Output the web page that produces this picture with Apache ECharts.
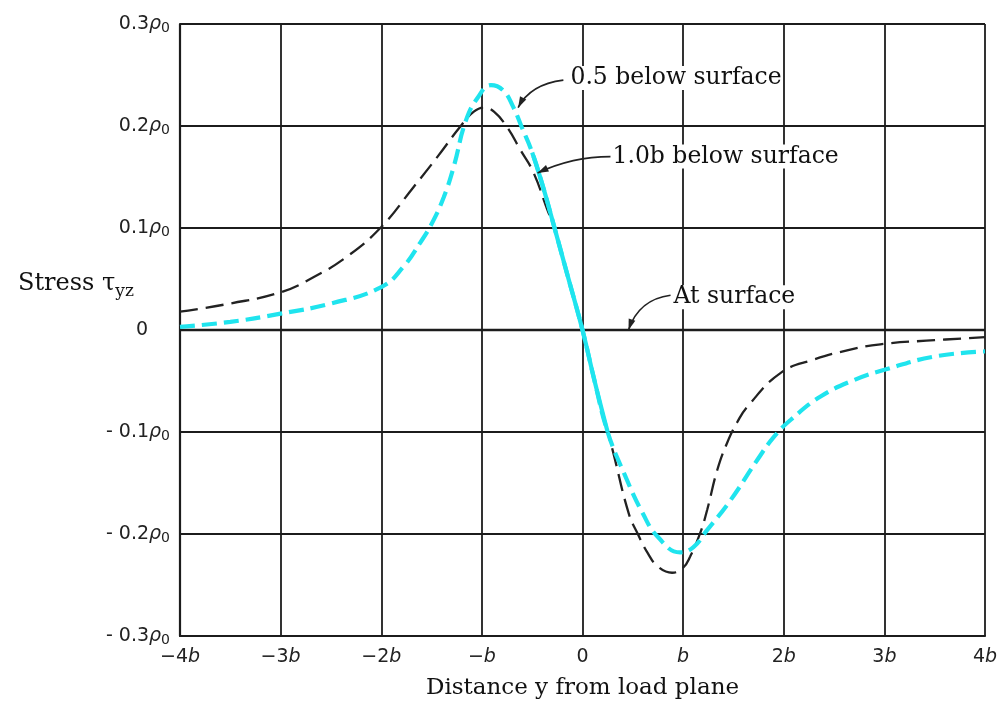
<!DOCTYPE html>
<html>
<head>
<meta charset="utf-8">
<script src="https://cdn.jsdelivr.net/npm/echarts@6/dist/echarts.min.js"></script>
<style>
  html, body { margin: 0; padding: 0; background: #ffffff; }
  #chart { width: 1008px; height: 713px; }
</style>
</head>
<body>
<div id="chart"></div>
<script>
// Distance from the load plane, in multiples of b
var depth10X = [-4, -3.5, -3, -2.67, -2.34, -2, -1.68, -1.44, -1.21, -1.08, -0.98, -0.88, -0.75, -0.62, -0.49, -0.35, -0.29, -0.15, 0,
                0.12, 0.25, 0.3, 0.46, 0.55, 0.65, 0.75, 0.89, 1.0, 1.07, 1.17, 1.24, 1.34, 1.44, 1.54, 1.64, 1.97, 2.3, 2.63, 2.96, 3.5, 4];
// Shear stress tau_yz / p0 at 1.0b below the surface
var depth10Y = [0.018, 0.026, 0.037, 0.052, 0.072, 0.101, 0.14, 0.17, 0.2, 0.214, 0.218, 0.214, 0.199, 0.177, 0.155, 0.118, 0.103, 0.054, 0,
                -0.05, -0.1, -0.118, -0.18, -0.2, -0.219, -0.232, -0.238, -0.233, -0.222, -0.199, -0.176, -0.137, -0.11, -0.09, -0.075, -0.042, -0.029, -0.02, -0.014, -0.010, -0.007];

var depth05X = [-4, -3.5, -3, -2.5, -2, -1.78, -1.61, -1.5, -1.38, -1.28, -1.16, -1.04, -0.91, -0.79, -0.69, -0.6, -0.5, -0.4, -0.3, -0.15, 0,
                0.12, 0.25, 0.42, 0.6, 0.75, 0.97, 1.1, 1.24, 1.47, 1.74, 1.9, 2.07, 2.37, 2.7, 3, 3.5, 4];
// Shear stress tau_yz / p0 at 0.5b below the surface
var depth05Y = [0.003, 0.008, 0.016, 0.026, 0.042, 0.062, 0.086, 0.104, 0.13, 0.16, 0.205, 0.228, 0.24, 0.235, 0.219, 0.198, 0.174, 0.143, 0.108, 0.054, 0,
                -0.05, -0.1, -0.142, -0.18, -0.203, -0.218, -0.213, -0.196, -0.167, -0.127, -0.105, -0.088, -0.065, -0.049, -0.039, -0.026, -0.021];

// At the surface the shear stress vanishes
var surfaceX = [-4, 4];
var surfaceY = [0, 0];

var xTickLabels = ['−4b', '−3b', '−2b', '−b', '0', 'b', '2b', '3b', '4b'];
var yTickLabels = ['-0.3', '-0.2', '-0.1', '0', '0.1', '0.2', '0.3'];

function pairs(xs, ys) {
  return xs.map(function (x, i) { return [x, ys[i]]; });
}

var CYAN = '#1fe4ee';
var INK = '#1c1c1c';
var TICK_FONT = 'DejaVu Sans';
var SERIF = 'DejaVu Serif';
var SMOOTH = 0.45;

var chart = echarts.init(document.getElementById('chart'), null, { renderer: 'canvas' });

var option = {
  backgroundColor: '#ffffff',
  animation: false,
  title: {
    text: 'Stress τ{s|yz}',
    left: 13,
    top: 263,
    textStyle: {
      fontFamily: SERIF,
      fontSize: 24,
      fontWeight: 'normal',
      color: '#111',
      rich: {
        s: { fontFamily: SERIF, fontSize: 17, color: '#111', verticalAlign: 'bottom', padding: [15, 0, 0, 0] }
      }
    }
  },
  grid: { left: 180, right: 23, top: 24, bottom: 77, containLabel: false },
  xAxis: {
    type: 'value',
    min: -4, max: 4, interval: 1,
    name: 'Distance y from load plane',
    nameLocation: 'middle',
    nameGap: 41,
    nameTextStyle: { fontFamily: SERIF, fontSize: 23, color: '#111' },
    axisLine: { show: true, onZero: false, lineStyle: { color: INK, width: 2.2 } },
    axisTick: { show: false },
    splitLine: { show: true, lineStyle: { color: INK, width: 1.8 } },
    axisLabel: {
      margin: 12,
      color: '#222',
      fontFamily: TICK_FONT,
      fontSize: 19,
      formatter: function (v) {
        var i = Math.round(v) + 4;
        return xTickLabels[i].replace('b', '{i|b}');
      },
      rich: { i: { fontFamily: TICK_FONT, fontStyle: 'italic', fontSize: 19, color: '#222' } }
    }
  },
  yAxis: {
    type: 'value',
    min: -0.3, max: 0.3, interval: 0.1,
    axisLine: { show: true, onZero: false, lineStyle: { color: INK, width: 2.2 } },
    axisTick: { show: false },
    splitLine: { show: true, lineStyle: { color: INK, width: 1.8 } },
    axisLabel: {
      margin: 10,
      color: '#222',
      fontFamily: TICK_FONT,
      fontSize: 19,
      formatter: function (v) {
        var i = Math.round(v * 10) + 3;
        var t = yTickLabels[i];
        if (t === '0') return '{z|0}';
        return t.replace('-', '- ') + '{r|ρ}{s|0}';
      },
      rich: {
        z: { fontFamily: TICK_FONT, fontSize: 19, color: '#222', padding: [0, 22, 0, 0] },
        r: { fontFamily: TICK_FONT, fontStyle: 'italic', fontSize: 19, color: '#222' },
        s: { fontFamily: TICK_FONT, fontSize: 14, color: '#222', verticalAlign: 'bottom', padding: [9, 0, 0, 0] }
      }
    }
  },
  series: [
    {
      name: 'At surface',
      type: 'line',
      data: pairs(surfaceX, surfaceY),
      symbol: 'none',
      lineStyle: { color: INK, width: 2.4 },
      z: 3
    },
    {
      name: '1.0b below surface',
      type: 'line',
      data: pairs(depth10X, depth10Y),
      smooth: SMOOTH,
      symbol: 'none',
      lineStyle: { color: '#222', width: 2.3, type: [18, 8] },
      z: 4
    },
    {
      name: '0.5 below surface',
      type: 'line',
      data: pairs(depth05X, depth05Y),
      smooth: SMOOTH,
      symbol: 'none',
      lineStyle: { color: CYAN, width: 4.2, type: [15, 7] },
      z: 5
    },
    {
      // the steep central stretch of the 0.5b curve is drawn solid
      name: '0.5 below surface (solid)',
      type: 'line',
      data: pairs(depth05X, depth05Y).filter(function (p) { return p[0] >= -0.5 && p[0] <= 0.25; }),
      smooth: SMOOTH,
      symbol: 'none',
      lineStyle: { color: CYAN, width: 4.2 },
      z: 5
    }
  ]
};

chart.setOption(option);

// Curve labels with curved leader arrows, anchored in data coordinates
var callouts = [
  { text: '0.5 below surface', at: [-0.12, 0.247], from: [-0.19, 0.245], ctrl: [-0.52, 0.241], to: [-0.64, 0.218] },
  { text: '1.0b below surface', at: [0.298, 0.17], from: [0.278, 0.17], ctrl: [-0.10, 0.17], to: [-0.447, 0.154] },
  { text: 'At surface', at: [0.905, 0.032], from: [0.875, 0.034], ctrl: [0.56, 0.030], to: [0.457, 0.0] }
];

var graphics = [];
callouts.forEach(function (c) {
  var p0 = chart.convertToPixel({ gridIndex: 0 }, c.from);
  var pc = chart.convertToPixel({ gridIndex: 0 }, c.ctrl);
  var p1 = chart.convertToPixel({ gridIndex: 0 }, c.to);
  var pt = chart.convertToPixel({ gridIndex: 0 }, c.at);
  graphics.push({
    type: 'bezierCurve',
    shape: { x1: p0[0], y1: p0[1], cpx1: pc[0], cpy1: pc[1], x2: p1[0], y2: p1[1] },
    style: { stroke: '#222', lineWidth: 1.6, fill: null },
    z: 10
  });
  // arrowhead along the end tangent
  var dx = p1[0] - pc[0], dy = p1[1] - pc[1];
  var len = Math.sqrt(dx * dx + dy * dy) || 1;
  var ux = dx / len, uy = dy / len;
  var L = 11, W = 3.5;
  var bx = p1[0] - ux * L, by = p1[1] - uy * L;
  graphics.push({
    type: 'polygon',
    shape: { points: [[p1[0], p1[1]], [bx - uy * W, by + ux * W], [bx + uy * W, by - ux * W]] },
    style: { fill: '#222' },
    z: 10
  });
  graphics.push({
    type: 'text',
    x: pt[0], y: pt[1],
    style: {
      text: c.text,
      fill: '#111',
      font: '23.5px "DejaVu Serif"',
      textAlign: 'left',
      textVerticalAlign: 'middle',
      backgroundColor: '#ffffff'
    },
    z: 11
  });
});

chart.setOption({ graphic: graphics });
</script>
</body>
</html>
